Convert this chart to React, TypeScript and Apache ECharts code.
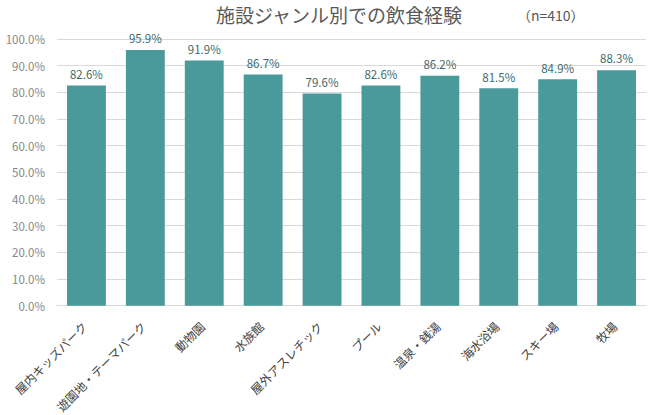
import React, { useEffect, useRef } from "react";
import * as echarts from "echarts";

const categories = ["屋内キッズパーク", "遊園地・テーマパーク", "動物園", "水族館", "屋外アスレチック", "プール", "温泉・銭湯", "海水浴場", "スキー場", "牧場"];
const values = [82.6, 95.9, 91.9, 86.7, 79.6, 82.6, 86.2, 81.5, 84.9, 88.3];
const yTicks = [0, 10, 20, 30, 40, 50, 60, 70, 80, 90, 100];

const FONT = "'Noto Sans CJK JP', 'Noto Sans', sans-serif";

export default function App() {
  const ref = useRef<HTMLDivElement>(null);
  useEffect(() => {
    if (!ref.current) return;
    const chart = echarts.init(ref.current, undefined, { renderer: "svg" });
    chart.setOption({
      animation: false,
      backgroundColor: "#ffffff",
      title: [
        {
          text: "施設ジャンル別での飲食経験",
          left: 211,
          top: 0,
          textStyle: { fontFamily: FONT, fontSize: 19, fontWeight: "normal", color: "#595959" },
        },
        {
          text: "（n=410）",
          left: 512,
          top: 3,
          textStyle: { fontFamily: FONT, fontSize: 14, fontWeight: "normal", color: "#595959" },
        },
      ],
      grid: { left: 57, right: 4, top: 39, bottom: 108, containLabel: false },
      xAxis: {
        type: "category",
        data: categories,
        axisTick: { show: false },
        axisLine: { lineStyle: { color: "#d9d9d9" } },
        axisLabel: {
          rotate: 45,
          interval: 0,
          margin: 16,
          padding: [0, 3, 0, 0],
          fontFamily: FONT,
          fontSize: 12,
          color: "#404040",
        },
      },
      yAxis: {
        type: "value",
        min: yTicks[0],
        max: yTicks[yTicks.length - 1],
        interval: 10,
        axisLine: { show: false },
        axisTick: { show: false },
        splitLine: { lineStyle: { color: "#d9d9d9" } },
        axisLabel: {
          fontFamily: FONT,
          fontSize: 11.5,
          color: "#868686",
          margin: 12,
          formatter: (v: number) => v.toFixed(1) + "%",
        },
      },
      series: [
        {
          type: "bar",
          data: values,
          barWidth: "66%",
          itemStyle: { color: "#4a9a9c" },
          label: {
            show: true,
            position: "top",
            distance: 6,
            fontFamily: FONT,
            fontSize: 11.5,
            color: "#3e6b6d",
            formatter: (p: any) => Number(p.value).toFixed(1) + "%",
          },
        },
      ],
    });
    return () => chart.dispose();
  }, []);
  return <div ref={ref} style={{ width: 650, height: 415, position: "absolute", left: 0, top: 0 }} />;
}
